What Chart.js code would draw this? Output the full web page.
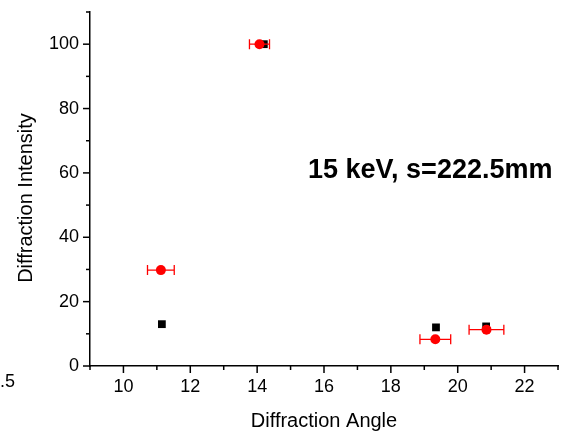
<!DOCTYPE html>
<html>
<head>
<meta charset="utf-8">
<script src="https://cdn.jsdelivr.net/npm/chart.js@4"></script>
<style>
	html, body { margin: 0; padding: 0; background: #fff; }
</style>
</head>
<body>
<canvas id="myChart" width="565" height="432"></canvas>
<script>
// data
var blackAngle = [11.15, 14.2, 19.35, 20.85];
var blackIntensity = [13, 100, 12, 12.3];
var redAngle = [11.12, 14.07, 19.33, 20.86];
var redIntensity = [29.8, 100, 8.3, 11.3];
var redAngleErr = [0.4, 0.3, 0.46, 0.52];
var xTickLabels = [10, 12, 14, 16, 18, 20, 22];
var yTickLabels = [0, 20, 40, 60, 80, 100];
var noteText = '15 keV, s=222.5mm';

var FONT = '"Liberation Sans", Arial, sans-serif';

function toPoints(xs, ys) {
	return xs.map(function(x, i) { return { x: x, y: ys[i] }; });
}

// tick marks, error bars and texts
var extras = {
	id: 'extras',
	afterDatasetsDraw: function(chart) {
		var ctx = chart.ctx;
		var xs = chart.scales.x, ys = chart.scales.y;
		ctx.save();
		ctx.strokeStyle = '#ff0000';
		ctx.lineWidth = 1.3;
		redAngle.forEach(function(a, i) {
			var x1 = xs.getPixelForValue(a - redAngleErr[i]);
			var x2 = xs.getPixelForValue(a + redAngleErr[i]);
			var y = ys.getPixelForValue(redIntensity[i]);
			ctx.beginPath();
			ctx.moveTo(x1, y); ctx.lineTo(x2, y);
			ctx.moveTo(x1, y - 5); ctx.lineTo(x1, y + 5);
			ctx.moveTo(x2, y - 5); ctx.lineTo(x2, y + 5);
			ctx.stroke();
		});
		ctx.restore();
	},
	afterDraw: function(chart) {
		var ctx = chart.ctx;
		var xs = chart.scales.x, ys = chart.scales.y;
		ctx.save();
		ctx.strokeStyle = '#000';
		ctx.lineWidth = 1.5;
		xs.ticks.forEach(function(t) {
			var px = xs.getPixelForValue(t.value);
			var len = xTickLabels.indexOf(t.value) >= 0 ? 7 : 4;
			ctx.beginPath();
			ctx.moveTo(px, xs.top); ctx.lineTo(px, xs.top + len);
			ctx.stroke();
		});
		ys.ticks.forEach(function(t) {
			var py = ys.getPixelForValue(t.value);
			var len = yTickLabels.indexOf(t.value) >= 0 ? 7 : 4;
			ctx.beginPath();
			ctx.moveTo(ys.right, py); ctx.lineTo(ys.right - len, py);
			ctx.stroke();
		});

		ctx.fillStyle = '#000';
		// note
		ctx.font = 'bold 27px ' + FONT;
		ctx.textAlign = 'left';
		ctx.textBaseline = 'alphabetic';
		ctx.fillText(noteText, 308, 178);
		// cut-off label on the left
		ctx.font = '18px ' + FONT;
		ctx.textAlign = 'right';
		ctx.fillText('8.5', 15, 387);
		// axis titles
		ctx.font = '20px ' + FONT;
		ctx.textAlign = 'center';
		ctx.fillText('Diffraction Angle', (xs.left + xs.right) / 2, 427);
		ctx.translate(32, 198);
		ctx.rotate(-Math.PI / 2);
		ctx.fillText('Diffraction Intensity', 0, 0);
		ctx.restore();
	}
};

var ctx = document.getElementById('myChart').getContext('2d');
new Chart(ctx, {
	type: 'scatter',
	data: {
		datasets: [{
			label: 'red',
			data: toPoints(redAngle, redIntensity),
			pointStyle: 'circle',
			pointRadius: 5,
			backgroundColor: '#ff0000',
			borderColor: '#ff0000',
			borderWidth: 0
		}, {
			label: 'black',
			data: toPoints(blackAngle, blackIntensity),
			pointStyle: 'rect',
			pointRadius: 5.5,
			backgroundColor: '#000',
			borderColor: '#000',
			borderWidth: 0
		}]
	},
	options: {
		responsive: false,
		animation: false,
		layout: { padding: { top: 12, right: 7, left: 0, bottom: 0 } },
		plugins: { legend: { display: false }, tooltip: { enabled: false } },
		scales: {
			x: {
				type: 'linear',
				min: 9, max: 23,
				grid: { display: true, drawOnChartArea: false, drawTicks: false },
				border: { display: true, color: '#000', width: 1.5 },
				ticks: {
					stepSize: 1,
					autoSkip: false,
					maxRotation: 0,
					padding: 10,
					color: '#000',
					font: { family: FONT, size: 18 },
					callback: function(v) { return xTickLabels.indexOf(v) >= 0 ? String(v) : ''; }
				},
				afterFit: function(s) {
					s.height = 66;
					s.paddingLeft = 0;
					s.paddingRight = 0;
				}
			},
			y: {
				type: 'linear',
				min: 0, max: 110,
				grid: { display: true, drawOnChartArea: false, drawTicks: false },
				border: { display: true, color: '#000', width: 1.5 },
				ticks: {
					stepSize: 10,
					autoSkip: false,
					padding: 11,
					color: '#000',
					font: { family: FONT, size: 18 },
					callback: function(v) { return yTickLabels.indexOf(v) >= 0 ? String(v) : ''; }
				},
				afterFit: function(s) {
					s.width = 90;
					s.paddingTop = 0;
					s.paddingBottom = 0;
				}
			}
		}
	},
	plugins: [extras]
});
</script>
</body>
</html>
